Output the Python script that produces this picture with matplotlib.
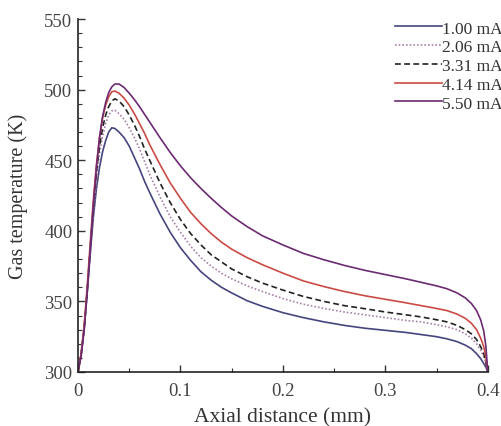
import matplotlib
matplotlib.use("Agg")
import matplotlib.pyplot as plt
from matplotlib.ticker import MultipleLocator

plt.rcParams['font.family'] = ['Liberation Serif', 'DejaVu Serif']

# Axial positions (mm)
axial_mm = [0, 0.003, 0.006, 0.009, 0.012, 0.015, 0.018, 0.021, 0.024, 0.027,
            0.030, 0.033, 0.036, 0.040, 0.045, 0.050, 0.055, 0.060, 0.065,
            0.070, 0.080, 0.090, 0.100, 0.110, 0.120, 0.130, 0.140, 0.150,
            0.165, 0.180, 0.200, 0.220, 0.240, 0.260, 0.280, 0.300, 0.320,
            0.335, 0.350, 0.360, 0.370, 0.378, 0.384, 0.389, 0.393, 0.396,
            0.398, 0.400]

# Gas temperature (K) for each discharge current
t_1_00 = [300, 312, 330, 356, 384, 410, 430, 445, 456, 464,
          470, 473, 472.5, 470, 466, 460, 452, 444, 435,
          427, 412, 399, 388, 379, 371, 365, 360, 356,
          350.5, 346.5, 342, 338.5, 335.5, 333, 331, 329.5, 328,
          326.5, 325, 323.5, 321.5, 319, 316.5, 313, 309.5, 306,
          303.5, 300]
t_2_06 = [300, 312, 330, 357, 386, 414, 437, 455, 467, 476,
          482, 485, 485.5, 483, 479, 473, 466, 458, 449,
          440, 424, 410, 399, 389, 381, 375, 370, 366,
          361, 357, 352, 348, 345, 342.5, 340.5, 338.5, 336.5,
          335.5, 333.5, 332, 330, 327, 324, 320, 315.5, 311,
          306, 300]
t_3_31 = [300, 312, 331, 358, 388, 417, 442, 460, 473, 482,
          488, 492, 493.5, 492, 488, 482, 475, 467, 458,
          450, 434, 420, 408, 398, 390, 383, 378, 373,
          367.5, 363, 358, 353.5, 350, 347, 344.8, 342.5, 340.5,
          339, 337, 335.5, 333, 330, 327, 323, 318, 313,
          307.5, 300]
t_4_14 = [300, 313, 333, 361, 392, 422, 447, 466, 480, 489,
          495, 498.5, 499, 497.5, 494, 489, 483, 476, 469,
          461, 447, 434, 423, 413, 405, 398, 392, 387,
          381, 376, 370, 364.5, 360.5, 357, 354, 351.5, 349,
          347, 345, 343.5, 341, 338, 334.5, 330, 324, 318,
          311, 300]
t_5_50 = [300, 311, 330, 357, 388, 419, 445, 466, 481, 491,
          498, 502, 504, 504, 501.5, 497.5, 493, 488, 482.5,
          477, 466, 455.5, 446, 437.5, 430, 423, 416.5, 410.5,
          403, 396.5, 390, 384, 379.5, 375.5, 372, 369, 366,
          363.5, 361, 359, 356, 352.5, 348.5, 343.5, 337, 329,
          319, 300]

labels = ['1.00 mA', '2.06 mA', '3.31 mA', '4.14 mA', '5.50 mA']
series = [t_1_00, t_2_06, t_3_31, t_4_14, t_5_50]
colors = ['#45457f', '#a880a8', '#222222', '#cc4a44', '#6c2a72']
styles = ['-', (0, (1, 1.2)), (0, (3.5, 2)), '-', '-']

fig = plt.figure(figsize=(5.01, 4.27), dpi=100)
ax = fig.add_axes([0.1557, 0.1265, 0.818, 0.8265])

for temps, lab, col, ls in zip(series, labels, colors, styles):
    ax.plot(axial_mm, temps, color=col, linestyle=ls, linewidth=1.2, label=lab)

ax.set_xlim(0, 0.4)
ax.set_ylim(300, 550)
ax.xaxis.set_major_locator(MultipleLocator(0.1))
ax.xaxis.set_minor_locator(MultipleLocator(0.05))
ax.yaxis.set_major_locator(MultipleLocator(50))
ax.yaxis.set_minor_locator(MultipleLocator(10))
ax.set_xticks([0, 0.1, 0.2, 0.3, 0.4])
ax.set_xticklabels(['0', '0.1', '0.2', '0.3', '0.4'])

ax.tick_params(which='major', direction='in', length=5, width=1.0,
               labelsize=13.5, colors='#333333', pad=4)
ax.tick_params(axis='x', which='major', pad=7)
ax.tick_params(which='minor', direction='in', length=3, width=0.8,
               colors='#333333')
ax.tick_params(axis='both', labelcolor='#444444')

for side in ('top', 'right'):
    ax.spines[side].set_visible(False)
for side in ('left', 'bottom'):
    ax.spines[side].set_linewidth(1.2)
    ax.spines[side].set_color('#222222')

ax.set_xlabel('Axial distance (mm)', fontsize=15.5, color='#333333', labelpad=6)
ax.set_ylabel('Gas temperature (K)', fontsize=14.5, color='#333333', labelpad=12)

leg = fig.legend(loc='upper right', bbox_to_anchor=(1.003, 0.95), frameon=False,
                 fontsize=12.5, handlelength=2.7, handletextpad=0.0,
                 labelspacing=0.15, borderaxespad=0.0, borderpad=0.0)
for t in leg.get_texts():
    t.set_color('#333333')

fig.savefig('out.png', dpi=100)
